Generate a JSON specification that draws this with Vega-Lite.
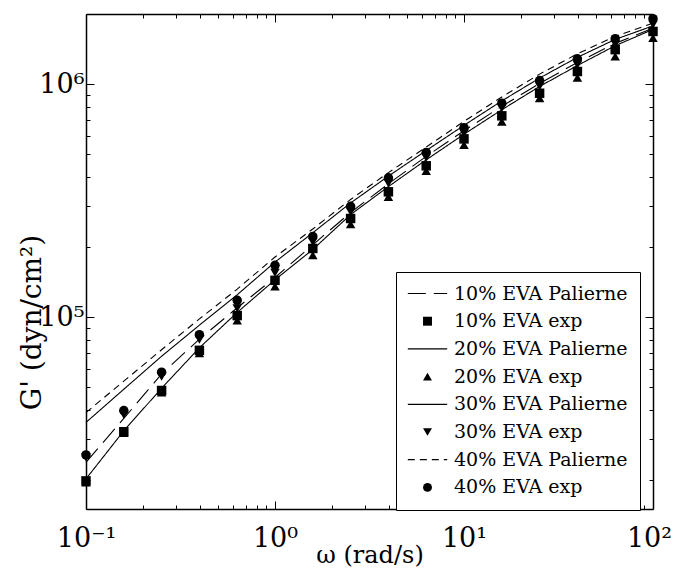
{
  "$schema": "https://vega.github.io/schema/vega-lite/v6.json",
  "width": 567,
  "height": 495,
  "autosize": {"type": "none"},
  "padding": {"left": 86, "top": 14, "right": 20, "bottom": 60},
  "background": "white",
  "config": {
    "view": {"stroke": null},
    "font": "DejaVu Serif",
    "axis": {
      "grid": false,
      "domainColor": "black",
      "domainWidth": 1.5,
      "tickColor": "black",
      "tickWidth": 1,
      "labelColor": "black",
      "titleColor": "black",
      "labelFont": "DejaVu Serif",
      "titleFont": "DejaVu Serif",
      "labelFontSize": 27,
      "titleFontSize": 24,
      "titleFontWeight": "normal",
      "labelOverlap": false,
      "labelFlush": false
    },
    "legend": {"labelFont": "DejaVu Serif"}
  },
  "datasets": {
    "exp": [
      {"series": "10% EVA exp", "w": 0.1, "G": 19800},
      {"series": "10% EVA exp", "w": 0.1585, "G": 32200},
      {"series": "10% EVA exp", "w": 0.2512, "G": 48400},
      {"series": "10% EVA exp", "w": 0.3981, "G": 72000},
      {"series": "10% EVA exp", "w": 0.631, "G": 101500},
      {"series": "10% EVA exp", "w": 1, "G": 143800},
      {"series": "10% EVA exp", "w": 1.585, "G": 197000},
      {"series": "10% EVA exp", "w": 2.512, "G": 265000},
      {"series": "10% EVA exp", "w": 3.981, "G": 345000},
      {"series": "10% EVA exp", "w": 6.31, "G": 446000},
      {"series": "10% EVA exp", "w": 10, "G": 582000},
      {"series": "10% EVA exp", "w": 15.85, "G": 731000},
      {"series": "10% EVA exp", "w": 25.12, "G": 914000},
      {"series": "10% EVA exp", "w": 39.81, "G": 1133000},
      {"series": "10% EVA exp", "w": 63.1, "G": 1406000},
      {"series": "10% EVA exp", "w": 100, "G": 1683000},
      {"series": "20% EVA exp", "w": 0.1, "G": 19500},
      {"series": "20% EVA exp", "w": 0.1585, "G": 31800},
      {"series": "20% EVA exp", "w": 0.2512, "G": 47500},
      {"series": "20% EVA exp", "w": 0.3981, "G": 70000},
      {"series": "20% EVA exp", "w": 0.631, "G": 96800},
      {"series": "20% EVA exp", "w": 1, "G": 135500},
      {"series": "20% EVA exp", "w": 1.585, "G": 184500},
      {"series": "20% EVA exp", "w": 2.512, "G": 250600},
      {"series": "20% EVA exp", "w": 3.981, "G": 328000},
      {"series": "20% EVA exp", "w": 6.31, "G": 424000},
      {"series": "20% EVA exp", "w": 10, "G": 548000},
      {"series": "20% EVA exp", "w": 15.85, "G": 690000},
      {"series": "20% EVA exp", "w": 25.12, "G": 871000},
      {"series": "20% EVA exp", "w": 39.81, "G": 1067000},
      {"series": "20% EVA exp", "w": 63.1, "G": 1315000},
      {"series": "20% EVA exp", "w": 100, "G": 1578000},
      {"series": "30% EVA exp", "w": 0.1, "G": 25000},
      {"series": "30% EVA exp", "w": 0.1585, "G": 38000},
      {"series": "30% EVA exp", "w": 0.2512, "G": 55500},
      {"series": "30% EVA exp", "w": 0.3981, "G": 80000},
      {"series": "30% EVA exp", "w": 0.631, "G": 109000},
      {"series": "30% EVA exp", "w": 1, "G": 154700},
      {"series": "30% EVA exp", "w": 1.585, "G": 210000},
      {"series": "30% EVA exp", "w": 2.512, "G": 283000},
      {"series": "30% EVA exp", "w": 3.981, "G": 375000},
      {"series": "30% EVA exp", "w": 6.31, "G": 483000},
      {"series": "30% EVA exp", "w": 10, "G": 615000},
      {"series": "30% EVA exp", "w": 15.85, "G": 789000},
      {"series": "30% EVA exp", "w": 25.12, "G": 977000},
      {"series": "30% EVA exp", "w": 39.81, "G": 1210000},
      {"series": "30% EVA exp", "w": 63.1, "G": 1486000},
      {"series": "30% EVA exp", "w": 100, "G": 1800000},
      {"series": "40% EVA exp", "w": 0.1, "G": 25600},
      {"series": "40% EVA exp", "w": 0.1585, "G": 39700},
      {"series": "40% EVA exp", "w": 0.2512, "G": 58000},
      {"series": "40% EVA exp", "w": 0.3981, "G": 84000},
      {"series": "40% EVA exp", "w": 0.631, "G": 118000},
      {"series": "40% EVA exp", "w": 1, "G": 166800},
      {"series": "40% EVA exp", "w": 1.585, "G": 222000},
      {"series": "40% EVA exp", "w": 2.512, "G": 299000},
      {"series": "40% EVA exp", "w": 3.981, "G": 396000},
      {"series": "40% EVA exp", "w": 6.31, "G": 509000},
      {"series": "40% EVA exp", "w": 10, "G": 650000},
      {"series": "40% EVA exp", "w": 15.85, "G": 828000},
      {"series": "40% EVA exp", "w": 25.12, "G": 1036000},
      {"series": "40% EVA exp", "w": 39.81, "G": 1285000},
      {"series": "40% EVA exp", "w": 63.1, "G": 1567000},
      {"series": "40% EVA exp", "w": 100, "G": 1910000}
    ],
    "model": [
      {"series": "10% EVA Palierne", "w": 0.1, "G": 23800},
      {"series": "10% EVA Palierne", "w": 0.1585, "G": 36700},
      {"series": "10% EVA Palierne", "w": 0.2512, "G": 57000},
      {"series": "10% EVA Palierne", "w": 0.3981, "G": 80400},
      {"series": "10% EVA Palierne", "w": 0.631, "G": 109600},
      {"series": "10% EVA Palierne", "w": 1, "G": 147900},
      {"series": "10% EVA Palierne", "w": 1.585, "G": 204200},
      {"series": "10% EVA Palierne", "w": 2.512, "G": 281200},
      {"series": "10% EVA Palierne", "w": 3.981, "G": 373300},
      {"series": "10% EVA Palierne", "w": 6.31, "G": 489800},
      {"series": "10% EVA Palierne", "w": 10, "G": 631000},
      {"series": "10% EVA Palierne", "w": 15.85, "G": 803500},
      {"series": "10% EVA Palierne", "w": 25.12, "G": 1007000},
      {"series": "10% EVA Palierne", "w": 39.81, "G": 1239000},
      {"series": "10% EVA Palierne", "w": 63.1, "G": 1496000},
      {"series": "10% EVA Palierne", "w": 100, "G": 1738000},
      {"series": "20% EVA Palierne", "w": 0.1, "G": 20200},
      {"series": "20% EVA Palierne", "w": 0.1585, "G": 32500},
      {"series": "20% EVA Palierne", "w": 0.2512, "G": 49500},
      {"series": "20% EVA Palierne", "w": 0.3981, "G": 73800},
      {"series": "20% EVA Palierne", "w": 0.631, "G": 104700},
      {"series": "20% EVA Palierne", "w": 1, "G": 144500},
      {"series": "20% EVA Palierne", "w": 1.585, "G": 195000},
      {"series": "20% EVA Palierne", "w": 2.512, "G": 275400},
      {"series": "20% EVA Palierne", "w": 3.981, "G": 363100},
      {"series": "20% EVA Palierne", "w": 6.31, "G": 473200},
      {"series": "20% EVA Palierne", "w": 10, "G": 609500},
      {"series": "20% EVA Palierne", "w": 15.85, "G": 776200},
      {"series": "20% EVA Palierne", "w": 25.12, "G": 977200},
      {"series": "20% EVA Palierne", "w": 39.81, "G": 1202000},
      {"series": "20% EVA Palierne", "w": 63.1, "G": 1462000},
      {"series": "20% EVA Palierne", "w": 100, "G": 1718000},
      {"series": "30% EVA Palierne", "w": 0.1, "G": 35300},
      {"series": "30% EVA Palierne", "w": 0.1585, "G": 49000},
      {"series": "30% EVA Palierne", "w": 0.2512, "G": 67900},
      {"series": "30% EVA Palierne", "w": 0.3981, "G": 92300},
      {"series": "30% EVA Palierne", "w": 0.631, "G": 124700},
      {"series": "30% EVA Palierne", "w": 1, "G": 172200},
      {"series": "30% EVA Palierne", "w": 1.585, "G": 230100},
      {"series": "30% EVA Palierne", "w": 2.512, "G": 309000},
      {"series": "30% EVA Palierne", "w": 3.981, "G": 402700},
      {"series": "30% EVA Palierne", "w": 6.31, "G": 518800},
      {"series": "30% EVA Palierne", "w": 10, "G": 665300},
      {"series": "30% EVA Palierne", "w": 15.85, "G": 847200},
      {"series": "30% EVA Palierne", "w": 25.12, "G": 1062000},
      {"series": "30% EVA Palierne", "w": 39.81, "G": 1303000},
      {"series": "30% EVA Palierne", "w": 63.1, "G": 1556000},
      {"series": "30% EVA Palierne", "w": 100, "G": 1778000},
      {"series": "40% EVA Palierne", "w": 0.1, "G": 38900},
      {"series": "40% EVA Palierne", "w": 0.1585, "G": 53100},
      {"series": "40% EVA Palierne", "w": 0.2512, "G": 72400},
      {"series": "40% EVA Palierne", "w": 0.3981, "G": 98200},
      {"series": "40% EVA Palierne", "w": 0.631, "G": 131800},
      {"series": "40% EVA Palierne", "w": 1, "G": 181100},
      {"series": "40% EVA Palierne", "w": 1.585, "G": 238800},
      {"series": "40% EVA Palierne", "w": 2.512, "G": 319900},
      {"series": "40% EVA Palierne", "w": 3.981, "G": 416900},
      {"series": "40% EVA Palierne", "w": 6.31, "G": 537000},
      {"series": "40% EVA Palierne", "w": 10, "G": 691800},
      {"series": "40% EVA Palierne", "w": 15.85, "G": 881000},
      {"series": "40% EVA Palierne", "w": 25.12, "G": 1104000},
      {"series": "40% EVA Palierne", "w": 39.81, "G": 1349000},
      {"series": "40% EVA Palierne", "w": 63.1, "G": 1603000},
      {"series": "40% EVA Palierne", "w": 100, "G": 1828000}
    ]
  },
  "resolve": {"axis": {"x": "independent", "y": "independent"}},
  "layer": [
    {
      "data": {"name": "model"},
      "mark": {"type": "line", "strokeWidth": 1.1},
      "encoding": {
        "x": {
          "field": "w", "type": "quantitative",
          "scale": {"type": "log", "domain": [0.1, 100]},
          "axis": {
            "orient": "top", "title": null, "labels": false,
            "values": [0.1,0.2,0.3,0.4,0.5,0.6,0.7,0.8,0.9,1,2,3,4,5,6,7,8,9,10,20,30,40,50,60,70,80,90,100],
            "tickSize": {"condition": {"test": "abs(log(datum.value)/LN10 - round(log(datum.value)/LN10)) < 1e-6", "value": -8}, "value": -4}
          }
        },
        "y": {
          "field": "G", "type": "quantitative",
          "scale": {"type": "log", "domain": [15000, 2000000]},
          "axis": {
            "orient": "right", "title": null, "labels": false,
            "values": [20000,30000,40000,50000,60000,70000,80000,90000,100000,200000,300000,400000,500000,600000,700000,800000,900000,1000000],
            "tickSize": {"condition": {"test": "abs(log(datum.value)/LN10 - round(log(datum.value)/LN10)) < 1e-6", "value": -8}, "value": -4}
          }
        },
        "stroke": {
          "field": "series", "type": "nominal",
          "scale": {
            "domain": ["10% EVA Palierne","10% EVA exp","20% EVA Palierne","20% EVA exp","30% EVA Palierne","30% EVA exp","40% EVA Palierne","40% EVA exp"],
            "range": ["black","transparent","black","transparent","black","transparent","black","transparent"]
          },
          "legend": {
            "title": null, "orient": "none", "legendX": 310, "legendY": 258,
            "direction": "vertical", "fillColor": "white", "strokeColor": "black",
            "padding": 12, "labelFont": "DejaVu Serif", "labelFontSize": 19, "labelColor": "black", "labelLimit": 0,
            "symbolSize": 80, "rowPadding": 7.7, "labelOffset": 17, "symbolOffset": 10,
            "symbolStrokeWidth": 1.2,
            "encode": {"legend": {"strokeWidth": {"value": 1.5}}}
          }
        },
        "strokeDash": {
          "field": "series", "type": "nominal",
          "scale": {
            "domain": ["10% EVA Palierne","10% EVA exp","20% EVA Palierne","20% EVA exp","30% EVA Palierne","30% EVA exp","40% EVA Palierne","40% EVA exp"],
            "range": [[18,8],[1,0],[1,0],[1,0],[1,0],[1,0],[7,5],[1,0]]
          },
          "legend": {
            "title": null, "orient": "none", "legendX": 310, "legendY": 258,
            "direction": "vertical", "fillColor": "white", "strokeColor": "black",
            "padding": 12, "labelFont": "DejaVu Serif", "labelFontSize": 19, "labelColor": "black", "labelLimit": 0,
            "symbolSize": 80, "rowPadding": 7.7, "labelOffset": 17, "symbolOffset": 10,
            "symbolStrokeWidth": 1.2,
            "encode": {"legend": {"strokeWidth": {"value": 1.5}}}
          }
        }
      }
    },
    {
      "data": {"name": "exp"},
      "mark": {"type": "point", "filled": true, "opacity": 1, "size": 90},
      "encoding": {
        "x": {
          "field": "w", "type": "quantitative",
          "scale": {"type": "log", "domain": [0.1, 100]},
          "axis": {
            "orient": "bottom", "title": "ω (rad/s)",
            "values": [0.1,0.2,0.3,0.4,0.5,0.6,0.7,0.8,0.9,1,2,3,4,5,6,7,8,9,10,20,30,40,50,60,70,80,90,100],
            "labelExpr": "abs(log(datum.value)/LN10 - round(log(datum.value)/LN10)) < 1e-6 ? '10' + ['⁻¹','⁰','¹','²','³','⁴','⁵','⁶'][round(log(datum.value)/LN10) + 1] : ''",
            "tickSize": {"condition": {"test": "abs(log(datum.value)/LN10 - round(log(datum.value)/LN10)) < 1e-6", "value": -8}, "value": -4},
            "labelOffset": {"condition": {"test": "datum.value >= 99", "value": -4}, "value": 0},
            "labelPadding": 24,
            "titlePadding": -12
          }
        },
        "y": {
          "field": "G", "type": "quantitative",
          "scale": {"type": "log", "domain": [15000, 2000000]},
          "axis": {
            "orient": "left", "title": "G' (dyn/cm²)",
            "values": [20000,30000,40000,50000,60000,70000,80000,90000,100000,200000,300000,400000,500000,600000,700000,800000,900000,1000000],
            "labelExpr": "abs(log(datum.value)/LN10 - round(log(datum.value)/LN10)) < 1e-6 ? '10' + ['⁻¹','⁰','¹','²','³','⁴','⁵','⁶'][round(log(datum.value)/LN10) + 1] : ''",
            "tickSize": {"condition": {"test": "abs(log(datum.value)/LN10 - round(log(datum.value)/LN10)) < 1e-6", "value": -8}, "value": -4},
            "labelPadding": 10,
            "titleFontSize": 28,
            "titleX": -54,
            "titleY": 308,
            "titleAngle": -90,
            "titleAlign": "center",
            "titleBaseline": "middle"
          }
        },
        "fill": {
          "field": "series", "type": "nominal",
          "scale": {
            "domain": ["10% EVA Palierne","10% EVA exp","20% EVA Palierne","20% EVA exp","30% EVA Palierne","30% EVA exp","40% EVA Palierne","40% EVA exp"],
            "range": ["transparent","black","transparent","black","transparent","black","transparent","black"]
          },
          "legend": {
            "title": null, "orient": "none", "legendX": 310, "legendY": 258,
            "direction": "vertical", "fillColor": "white", "strokeColor": "black",
            "padding": 12, "labelFont": "DejaVu Serif", "labelFontSize": 19, "labelColor": "black", "labelLimit": 0,
            "symbolSize": 80, "rowPadding": 7.7, "labelOffset": 17, "symbolOffset": 10,
            "symbolStrokeWidth": 1.2,
            "encode": {"legend": {"strokeWidth": {"value": 1.5}}}
          }
        },
        "shape": {
          "field": "series", "type": "nominal",
          "scale": {
            "domain": ["10% EVA Palierne","10% EVA exp","20% EVA Palierne","20% EVA exp","30% EVA Palierne","30% EVA exp","40% EVA Palierne","40% EVA exp"],
            "range": ["M-4.4,0L4.4,0","square","M-4.4,0L4.4,0","triangle-up","M-4.4,0L4.4,0","triangle-down","M-4.4,0L4.4,0","circle"]
          },
          "legend": {
            "title": null, "orient": "none", "legendX": 310, "legendY": 258,
            "direction": "vertical", "fillColor": "white", "strokeColor": "black",
            "padding": 12, "labelFont": "DejaVu Serif", "labelFontSize": 19, "labelColor": "black", "labelLimit": 0,
            "symbolSize": 80, "rowPadding": 7.7, "labelOffset": 17, "symbolOffset": 10,
            "symbolStrokeWidth": 1.2,
            "encode": {"legend": {"strokeWidth": {"value": 1.5}}}
          }
        }
      }
    }
  ]
}
